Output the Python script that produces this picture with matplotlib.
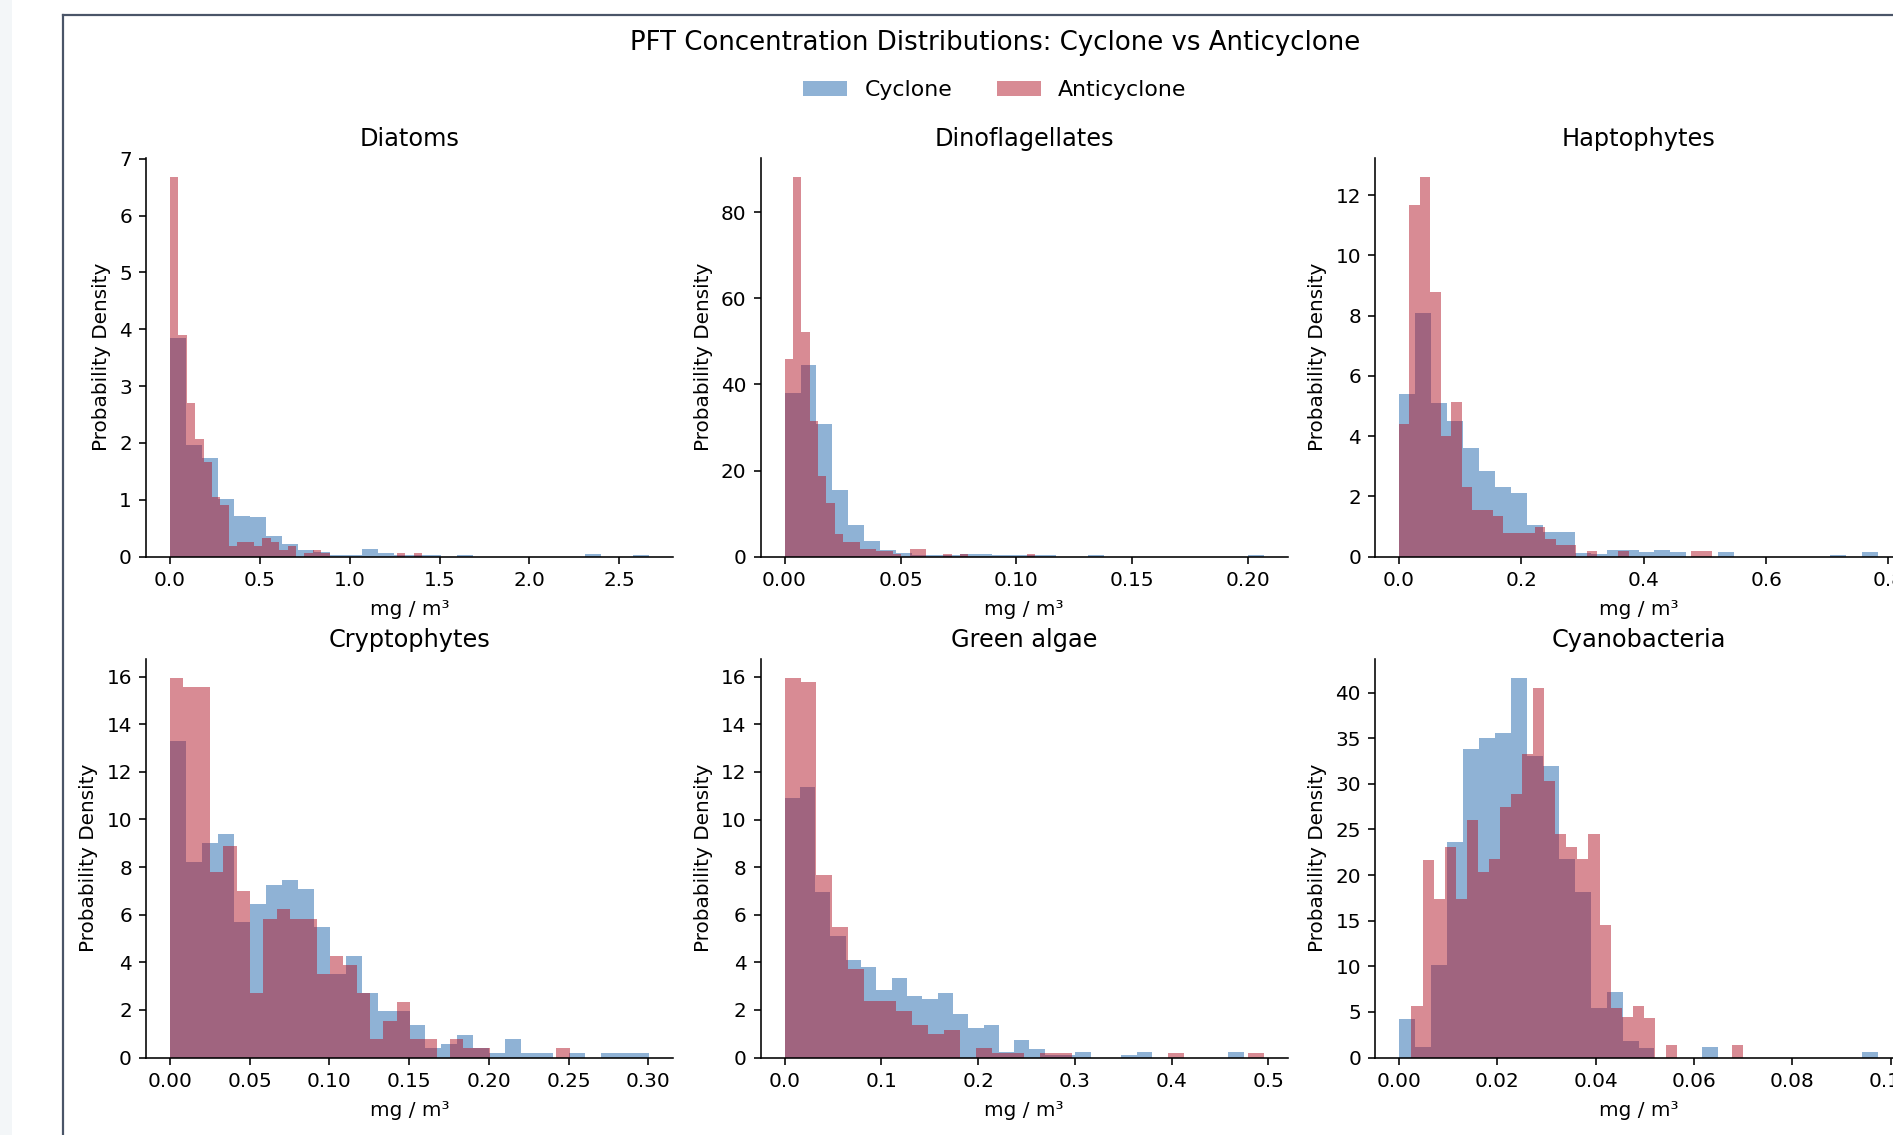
import numpy as np
import matplotlib.pyplot as plt
from matplotlib.patches import Rectangle, Patch
from matplotlib.lines import Line2D

# names of the six phytoplankton functional types
pft_names = ["Diatoms", "Dinoflagellates", "Haptophytes",
             "Cryptophytes", "Green algae", "Cyanobacteria"]

# each histogram: 30 bins between (min, max) of the sample, density heights
diatoms_cyc_range = (0.0, 2.665)
diatoms_cyc = [3.84, 1.96, 1.74, 1.02, 0.72, 0.70, 0.36, 0.23, 0.11, 0.08,
               0.02, 0.02, 0.13, 0.055, 0.035, 0.02, 0.02, 0.0, 0.02, 0.0,
               0.0, 0.0, 0.0, 0.0, 0.0, 0.0, 0.045, 0.0, 0.0, 0.02]
diatoms_anti_range = (0.0, 1.403)
diatoms_anti = [6.68, 3.90, 2.70, 2.07, 1.67, 1.04, 0.91, 0.19, 0.26, 0.26,
                0.19, 0.33, 0.26, 0.12, 0.19, 0.0, 0.06, 0.12, 0.06, 0.0,
                0.0, 0.0, 0.0, 0.0, 0.0, 0.0, 0.0, 0.06, 0.0, 0.06]

dino_cyc_range = (0.0, 0.2066)
dino_cyc = [37.9, 44.6, 30.9, 15.5, 7.3, 3.6, 1.6, 0.75, 0.3, 0.3,
            0.3, 0.58, 0.58, 0.29, 0.29, 0.29, 0.29, 0.0, 0.0, 0.29,
            0.0, 0.0, 0.0, 0.0, 0.0, 0.0, 0.0, 0.0, 0.0, 0.29]
dino_anti_range = (0.0, 0.108)
dino_anti = [45.9, 88.2, 52.2, 31.5, 18.7, 12.5, 5.3, 3.3, 3.3, 1.7,
             1.7, 1.2, 1.2, 0.6, 0.0, 1.8, 1.8, 0.0, 0.0, 0.6,
             0.0, 0.6, 0.0, 0.0, 0.0, 0.0, 0.0, 0.0, 0.0, 0.6]

hapto_cyc_range = (0.0, 0.783)
hapto_cyc = [5.41, 8.1, 5.11, 4.5, 3.6, 2.85, 2.32, 2.1, 1.05, 0.82,
             0.82, 0.13, 0.08, 0.22, 0.22, 0.15, 0.22, 0.15, 0.0, 0.0,
             0.15, 0.0, 0.0, 0.0, 0.0, 0.0, 0.0, 0.06, 0.0, 0.15]
hapto_anti_range = (0.0, 0.512)
hapto_anti = [4.4, 11.66, 12.6, 8.79, 4.01, 5.14, 2.3, 1.54, 1.54, 1.35,
              0.78, 0.78, 0.78, 0.98, 0.58, 0.38, 0.38, 0.0, 0.2, 0.0,
              0.0, 0.2, 0.0, 0.0, 0.0, 0.0, 0.0, 0.0, 0.2, 0.2]

crypto_cyc_range = (0.0, 0.3004)
crypto_cyc = [13.3, 8.22, 9.0, 9.38, 5.7, 6.45, 7.23, 7.44, 7.06, 5.49,
              3.5, 4.28, 2.7, 1.94, 1.94, 1.38, 0.39, 0.56, 0.95, 0.39,
              0.18, 0.79, 0.18, 0.18, 0.0, 0.18, 0.0, 0.18, 0.18, 0.18]
crypto_anti_range = (0.0, 0.2507)
crypto_anti = [15.94, 15.55, 15.55, 7.8, 8.9, 7.0, 2.7, 5.84, 6.22, 5.84,
               5.84, 3.5, 4.28, 3.87, 2.7, 0.79, 1.54, 2.32, 0.79, 0.79,
               0.0, 0.79, 0.39, 0.39, 0.0, 0.0, 0.0, 0.0, 0.0, 0.39]

green_cyc_range = (0.0, 0.4745)
green_cyc = [10.9, 11.39, 6.94, 5.1, 4.09, 3.82, 2.85, 3.34, 2.6, 2.47,
             2.71, 1.85, 1.24, 1.36, 0.22, 0.74, 0.37, 0.11, 0.11, 0.22,
             0.0, 0.0, 0.11, 0.22, 0.0, 0.0, 0.0, 0.0, 0.0, 0.22]
green_anti_range = (0.0, 0.495)
green_anti = [15.95, 15.77, 7.68, 5.5, 3.74, 2.36, 2.36, 1.97, 1.38, 0.98,
              1.17, 0.0, 0.39, 0.18, 0.18, 0.0, 0.18, 0.18, 0.0, 0.0,
              0.0, 0.0, 0.0, 0.0, 0.18, 0.0, 0.0, 0.0, 0.0, 0.18]

cyano_cyc_range = (0.0, 0.0974)
cyano_cyc = [4.2, 1.2, 10.2, 23.6, 33.8, 35.0, 35.6, 41.6, 33.0, 32.0,
             21.8, 18.2, 5.45, 7.15, 1.85, 1.1, 0.0, 0.0, 0.0, 1.2,
             0.0, 0.0, 0.0, 0.0, 0.0, 0.0, 0.0, 0.0, 0.0, 0.6]
cyano_anti_range = (0.00255, 0.0700)
cyano_anti = [5.7, 21.7, 17.4, 23.1, 17.4, 26.0, 20.3, 21.8, 27.5, 28.9,
              33.3, 40.5, 30.3, 24.5, 23.1, 21.8, 24.5, 14.5, 5.45, 4.4,
              5.7, 4.3, 0.0, 1.36, 0.0, 0.0, 0.0, 0.0, 0.0, 1.36]

cyc_ranges = [diatoms_cyc_range, dino_cyc_range, hapto_cyc_range,
              crypto_cyc_range, green_cyc_range, cyano_cyc_range]
cyc_dens = [diatoms_cyc, dino_cyc, hapto_cyc, crypto_cyc, green_cyc, cyano_cyc]
anti_ranges = [diatoms_anti_range, dino_anti_range, hapto_anti_range,
               crypto_anti_range, green_anti_range, cyano_anti_range]
anti_dens = [diatoms_anti, dino_anti, hapto_anti, crypto_anti, green_anti, cyano_anti]

col_cyc = "#2166AC"
col_anti = "#B2182B"

W, H = 1893, 1135
fig = plt.figure(figsize=(W / 144, H / 144), dpi=144)

# page chrome around the figure (screenshot look)
fig.add_artist(Rectangle((0, 0), 12 / W, 1, transform=fig.transFigure,
                         facecolor="#F3F6F8", edgecolor="none"))
fig.add_artist(Line2D([63 / W, 63 / W], [0, 1 - 14.5 / H], transform=fig.transFigure,
                      color="#4A5568", lw=1.1))
fig.add_artist(Line2D([63 / W, 1], [1 - 14.5 / H, 1 - 14.5 / H], transform=fig.transFigure,
                      color="#4A5568", lw=1.1))

lefts = [146 / W, 760.6 / W, 1375 / W]
bottoms = [1 - 556.6 / H, 1 - 1057.6 / H]
aw = 527 / W
ah = 398.6 / H

for i, name in enumerate(pft_names):
    ax = fig.add_axes([lefts[i % 3], bottoms[i // 3], aw, ah])
    e1 = np.linspace(cyc_ranges[i][0], cyc_ranges[i][1], len(cyc_dens[i]) + 1)
    ax.stairs(cyc_dens[i], e1, fill=True, color=col_cyc, alpha=0.5)
    e2 = np.linspace(anti_ranges[i][0], anti_ranges[i][1], len(anti_dens[i]) + 1)
    ax.stairs(anti_dens[i], e2, fill=True, color=col_anti, alpha=0.5)
    ax.set_title(name, pad=5.8)
    ax.set_xlabel("mg / m³", labelpad=5)
    ax.set_ylabel("Probability Density")
    ax.spines["top"].set_visible(False)
    ax.spines["right"].set_visible(False)

fig.text(995 / W, 1 - 43.5 / H, "PFT Concentration Distributions: Cyclone vs Anticyclone",
         ha="center", va="center", fontsize=13)
handles = [Patch(facecolor=col_cyc, alpha=0.5, label="Cyclone"),
           Patch(facecolor=col_anti, alpha=0.5, label="Anticyclone")]
fig.legend(handles=handles, loc="center", bbox_to_anchor=(995 / W, 1 - 90 / H),
           ncol=2, frameon=False, fontsize=11)

fig.savefig("out.png", dpi=144)
